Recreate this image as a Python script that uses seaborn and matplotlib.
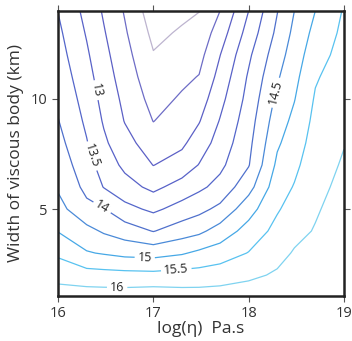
import numpy as np
import seaborn as sns
import matplotlib
matplotlib.use('Agg')
import matplotlib.pyplot as plt

# grid of the model runs
log_eta = [16, 16.3, 16.48, 16.7, 17, 17.3, 17.48, 17.7, 18, 18.3, 18.48, 18.7, 19]
width_km = [1, 2, 3, 4, 5, 6, 7, 8, 9, 10, 11, 12, 13, 14]

# one row per width, one value per log(eta)
z_w1 = [16.25, 16.27, 16.26, 16.26, 16.32, 16.24, 16.24, 16.24, 16.28, 16.27, 16.38, 16.27, 16.50]
z_w2 = [15.83, 15.70, 15.68, 15.66, 15.64, 15.69, 15.70, 15.77, 15.90, 16.06, 16.21, 16.19, 16.42]
z_w3 = [15.41, 15.04, 14.96, 14.86, 14.82, 14.95, 15.10, 15.24, 15.52, 15.85, 16.04, 16.11, 16.34]
z_w4 = [14.98, 14.65, 14.44, 14.25, 13.98, 14.26, 14.39, 14.71, 15.19, 15.65, 15.87, 16.03, 16.27]
z_w5 = [14.67, 14.13, 14.02, 13.65, 13.40, 13.69, 13.86, 14.12, 14.80, 15.45, 15.70, 15.95, 16.20]
z_w6 = [14.44, 13.87, 13.48, 13.19, 12.88, 13.20, 13.40, 13.66, 14.32, 15.28, 15.53, 15.87, 16.12]
z_w7 = [14.30, 13.70, 13.28, 12.89, 12.49, 12.71, 13.02, 13.39, 13.97, 15.10, 15.39, 15.79, 16.05]
z_w8 = [14.16, 13.53, 13.09, 12.67, 12.24, 12.41, 12.74, 13.20, 13.87, 14.93, 15.25, 15.71, 15.98]
z_w9 = [14.02, 13.41, 12.95, 12.48, 11.99, 12.24, 12.47, 13.03, 13.77, 14.77, 15.12, 15.63, 15.90]
z_w10 = [13.91, 13.30, 12.84, 12.38, 11.83, 12.06, 12.25, 12.85, 13.66, 14.61, 14.98, 15.55, 15.83]
z_w11 = [13.81, 13.18, 12.74, 12.27, 11.68, 11.90, 12.02, 12.67, 13.56, 14.44, 14.86, 15.45, 15.76]
z_w12 = [13.70, 13.07, 12.64, 12.17, 11.53, 11.73, 11.84, 12.49, 13.41, 14.28, 14.74, 15.30, 15.68]
z_w13 = [13.60, 12.96, 12.54, 12.06, 11.38, 11.56, 11.66, 12.25, 13.20, 14.11, 14.62, 15.15, 15.61]
z_w14 = [13.49, 12.85, 12.44, 11.96, 11.22, 11.39, 11.49, 12.00, 13.00, 13.98, 14.50, 15.00, 15.54]

plain_levels = [11.5, 12, 12.5]
label_levels = [13, 13.5, 14, 14.5, 15, 15.5, 16]
plain_colors = ['#bdb4cf', '#6d6cc6', '#5c60c6']
label_colors = ['#5862c8', '#5466ca', '#4f70cc', '#4a8ad8', '#46a8e6', '#58c2f0', '#7fd3f0']

sns.set_theme(style='white')
plt.rcParams['font.family'] = ['Open Sans', 'DejaVu Sans']

Z = np.array([z_w1, z_w2, z_w3, z_w4, z_w5, z_w6, z_w7, z_w8, z_w9, z_w10,
              z_w11, z_w12, z_w13, z_w14])
X, Y = np.meshgrid(log_eta, width_km)

fig = plt.figure(figsize=(3.52, 3.41), dpi=100)
ax = fig.add_axes([0.165, 0.132, 0.812, 0.836])

ax.contour(X, Y, Z, levels=plain_levels, colors=sns.color_palette(plain_colors),
           linewidths=0.9)
cs = ax.contour(X, Y, Z, levels=label_levels, colors=sns.color_palette(label_colors),
                linewidths=0.9)
# label spots, roughly where the reference puts them (one per level, in order)
spots = [(16.40, 10.4), (16.35, 7.4), (16.46, 5.06), (18.27, 10.3),
         (16.91, 2.83), (17.24, 2.29), (16.62, 1.47)]
ax.clabel(cs, manual=spots, inline=True, fontsize=9,
          fmt='%g', colors='#222222', inline_spacing=3)

ax.set_xlim(16, 19)
ax.set_ylim(1.05, 14)
ax.set_xticks([16, 17, 18, 19])
ax.set_yticks([5, 10])
ax.tick_params(direction='out', length=4.5, width=0.8, color='#555555',
               top=True, right=True, bottom=True, left=True,
               labelsize=10.5, labelcolor='#333333', pad=3)
for sp in ax.spines.values():
    sp.set_color('#222222')
    sp.set_linewidth(1.8)

ax.set_xlabel('log(η)  Pa.s', fontsize=12.5, color='#333333', labelpad=0)
ax.set_ylabel('Width of viscous body (km)', fontsize=12.5, color='#333333', labelpad=5)

fig.savefig('out.png', dpi=100)
